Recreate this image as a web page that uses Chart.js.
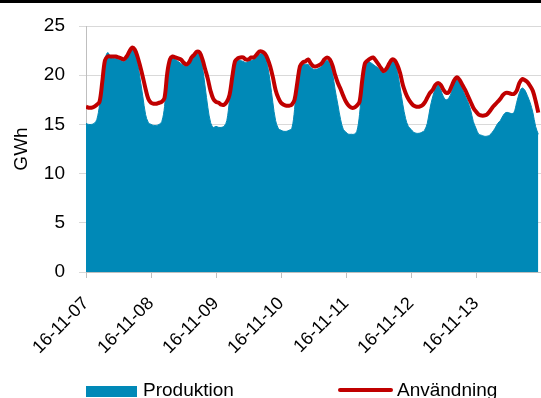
<!DOCTYPE html>
<html>
<head>
<meta charset="utf-8">
<script src="https://cdn.jsdelivr.net/npm/chart.js@4.4.1/dist/chart.umd.min.js"></script>
<style>
    body { margin: 0; background: #fff; }
    #wrap { position: relative; width: 541px; height: 398px; overflow: hidden; font-family: "Liberation Sans", Arial, sans-serif; }
    #topbar { position: absolute; left: 0; top: 0; width: 541px; height: 3px; background: #000; }
    #chart { position: absolute; left: 0; top: 0; }
    .lg-box { position: absolute; left: 86px; top: 386px; width: 51px; height: 11px; background: #0089b7; }
    .lg-line { position: absolute; left: 338px; top: 388px; width: 55px; height: 4px; background: #c00000; border-radius: 2px; }
    .lg-text { position: absolute; top: 380px; font-size: 19px; line-height: 19px; color: #000; white-space: nowrap; }
</style>
</head>
<body>
<div id="wrap">
    <canvas id="chart" width="541" height="398"></canvas>
    <div id="topbar"></div>
    <div class="lg-box"></div>
    <div class="lg-text" style="left:143px">Produktion</div>
    <div class="lg-line"></div>
    <div class="lg-text" style="left:397px">Användning</div>
</div>
<script>
// one label per day, one value per hour
const days = ['16-11-07', '16-11-08', '16-11-09', '16-11-10', '16-11-11', '16-11-12', '16-11-13'];

const anvandning = [
    16.8, 16.7, 16.7, 16.8, 17.0, 17.3, 19.3, 21.5, 21.9, 21.9, 21.9, 21.9, 21.8, 21.7, 21.6, 21.9, 22.4, 22.8, 22.6, 21.9, 20.9, 19.8, 18.6, 17.6,
    17.2, 17.1, 17.1, 17.2, 17.3, 17.7, 20.2, 21.6, 21.9, 21.8, 21.7, 21.6, 21.3, 21.1, 21.3, 21.8, 22.1, 22.4, 22.3, 21.6, 20.6, 19.6, 18.4, 17.6,
    17.3, 17.2, 17.0, 17.0, 17.3, 18.0, 19.8, 21.4, 21.7, 21.8, 21.8, 21.6, 21.6, 21.8, 21.8, 22.1, 22.4, 22.4, 22.2, 21.7, 20.9, 19.8, 18.5, 17.7,
    17.2, 17.0, 16.9, 16.9, 17.0, 17.5, 19.2, 20.9, 21.3, 21.4, 21.6, 21.2, 20.9, 20.9, 21.0, 21.2, 21.6, 21.8, 21.6, 21.0, 20.0, 19.2, 18.6, 17.9,
    17.3, 16.9, 16.7, 16.7, 16.9, 17.3, 19.5, 21.2, 21.5, 21.7, 21.8, 21.5, 21.1, 20.7, 20.4, 20.7, 21.2, 21.6, 21.5, 21.0, 20.2, 19.0, 18.2, 17.6,
    17.2, 16.9, 16.8, 16.8, 16.9, 17.2, 17.7, 18.2, 18.5, 19.0, 19.2, 19.0, 18.5, 18.2, 18.3, 18.9, 19.5, 19.8, 19.5, 19.0, 18.5, 17.9, 17.3, 16.7,
    16.3, 16.0, 15.9, 15.9, 16.0, 16.3, 16.7, 17.0, 17.3, 17.6, 18.0, 18.2, 18.2, 18.1, 18.1, 18.4, 19.2, 19.6, 19.5, 19.3, 18.9, 18.4, 17.4, 16.2
];

const produktion = [
    15.1, 15.0, 15.0, 15.1, 15.5, 17.0, 19.5, 21.6, 22.3, 21.9, 21.7, 21.7, 21.6, 21.5, 21.4, 21.7, 22.2, 22.6, 22.3, 21.3, 19.6, 17.8, 16.0, 15.2,
    15.0, 14.9, 14.9, 15.0, 15.3, 16.8, 20.0, 21.6, 21.8, 21.6, 21.4, 21.2, 21.0, 20.9, 21.1, 21.5, 21.9, 22.2, 22.0, 20.8, 18.8, 16.7, 15.2, 14.7,
    14.8, 14.7, 14.7, 14.8, 15.4, 17.5, 19.8, 21.3, 21.5, 21.5, 21.4, 21.3, 21.4, 21.5, 21.6, 21.8, 22.1, 22.2, 21.9, 21.0, 19.3, 17.2, 15.4, 14.6,
    14.4, 14.3, 14.3, 14.4, 14.6, 16.5, 19.8, 21.0, 21.1, 21.1, 21.1, 20.8, 20.6, 20.6, 20.7, 20.9, 21.3, 21.5, 21.2, 20.2, 18.5, 17.0, 15.5, 14.5,
    14.2, 14.0, 14.0, 14.0, 14.3, 16.0, 19.0, 21.0, 21.4, 21.3, 21.1, 20.9, 20.7, 20.4, 20.2, 20.4, 20.9, 21.4, 21.2, 20.3, 18.7, 17.0, 15.6, 14.8,
    14.5, 14.2, 14.1, 14.1, 14.2, 14.4, 15.1, 16.6, 17.8, 18.6, 19.0, 18.5, 17.8, 17.5, 17.7, 18.3, 19.2, 19.5, 19.2, 18.6, 17.9, 17.3, 16.5, 15.3,
    14.6, 14.0, 13.9, 13.8, 13.8, 13.9, 14.2, 14.6, 15.1, 15.4, 15.9, 16.2, 16.2, 16.1, 16.2, 17.2, 18.2, 18.7, 18.5, 17.9, 17.2, 16.2, 14.8, 14.0
];

const yTicks = [0, 5, 10, 15, 20, 25];

const font = { family: '"Liberation Sans", Arial, sans-serif', size: 19 };

const config = {
    type: 'line',
    data: {
        datasets: [
            {
                label: 'Användning',
                data: anvandning.map((v, i) => ({ x: i, y: v })),
                borderColor: '#c00000',
                borderWidth: 4,
                fill: false,
                tension: 0.35,
                pointRadius: 0,
                order: 0,
            },
            {
                label: 'Produktion',
                data: produktion.map((v, i) => ({ x: i, y: v })),
                backgroundColor: '#0089b7',
                borderColor: '#0089b7',
                borderWidth: 1,
                fill: 'origin',
                tension: 0.35,
                pointRadius: 0,
                order: 1,
            }
        ]
    },
    options: {
        responsive: false,
        animation: false,
        devicePixelRatio: 1,
        layout: {
            padding: { top: 26, right: 0, left: 0, bottom: 0 },
        },
        scales: {
            x: {
                type: 'linear',
                min: 0,
                max: days.length * 24,
                afterBuildTicks: (scale) => {
                    scale.ticks = days.map((d, i) => ({ value: i * 24 }));
                },
                afterFit: (scale) => { scale.height = 126; },
                grid: {
                    drawOnChartArea: false,
                    color: '#bfbfbf',
                    tickLength: 6,
                },
                border: { color: '#bfbfbf' },
                ticks: {
                    autoSkip: false,
                    minRotation: 45,
                    maxRotation: 45,
                    padding: 15,
                    color: '#000',
                    font: { family: font.family, size: 18 },
                    callback: (value) => days[value / 24],
                },
            },
            y: {
                min: 0,
                max: 25,
                afterBuildTicks: (scale) => {
                    scale.ticks = yTicks.map(v => ({ value: v }));
                },
                afterFit: (scale) => { scale.width = 86; },
                grid: {
                    color: '#d9d9d9',
                    tickLength: 7,
                },
                border: { color: '#bfbfbf' },
                ticks: {
                    padding: 14,
                    color: '#000',
                    font: font,
                },
                title: {
                    display: true,
                    text: 'GWh',
                    color: '#000',
                    font: font,
                    padding: { top: 10, bottom: 0 },
                },
            },
        },
        plugins: {
            legend: { display: false },
            tooltip: { enabled: false },
        },
    },
};

const ctx = document.getElementById('chart').getContext('2d');
const chart = new Chart(ctx, config);
</script>
</body>
</html>
